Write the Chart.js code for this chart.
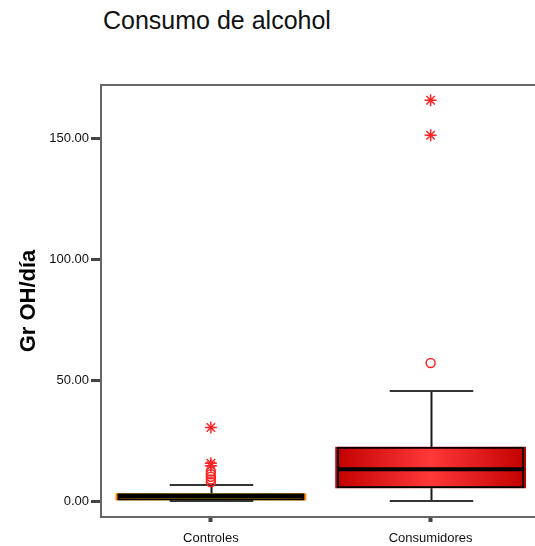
<!DOCTYPE html>
<html>
<head>
<meta charset="utf-8">
<script src="https://cdn.jsdelivr.net/npm/chart.js@4.4.1/dist/chart.umd.min.js"></script>
<style>
  html, body { margin: 0; padding: 0; background: #fff; overflow: hidden; width: 535px; height: 546px; }
  #wrap { position: relative; width: 548px; height: 546px; }
  #title { position: absolute; left: 103px; top: 8px; font: 25px "Liberation Sans", Arial, sans-serif;
           line-height: 25px; color: #111; white-space: nowrap; }
  canvas { position: absolute; left: 0; top: 0; }
</style>
</head>
<body>
<div id="wrap">
  <div id="title">Consumo de alcohol</div>
  <canvas id="c" width="548" height="546"></canvas>
</div>
<script>
// Box-plot summary per group (grams of alcohol per day)
const categories = ['Controles', 'Consumidores'];
const lowerWhisker = [0.0, 0.0];
const q1 = [0.0, 5.3];
const median = [2.0, 13.1];
const q3 = [3.2, 22.4];
const upperWhisker = [6.6, 45.5];
// Outliers: circles = mild, stars = extreme
const circleOutliers = [[7.8, 8.9, 10.0, 11.1, 12.2], [57.1]];
const starOutliers = [[14.6, 15.6, 30.4], [151.2, 165.7]];
const yTicks = [0, 50, 100, 150];

const FONT = '"Liberation Sans", Arial, sans-serif';
const BOX_PCT = 0.852;
const FILL_PCT = 0.868;
const CAP_PCT = 0.38;
const fillStops = [
  ['#ff8a00', '#ffe600', '#ff8a00'],
  ['#c20000', '#ff3838', '#c20000']
];

function boxFill(ctx) {
  const chart = ctx.chart;
  const xs = chart.scales.x;
  const i = ctx.dataIndex;
  if (ctx.type !== 'data' || !xs || !chart.chartArea || !xs.width) {
    return fillStops[i || 0][1];
  }
  const cx = xs.getPixelForValue(i);
  const half = xs.width / categories.length * FILL_PCT / 2;
  const g = chart.ctx.createLinearGradient(cx - half, 0, cx + half, 0);
  g.addColorStop(0, fillStops[i][0]);
  g.addColorStop(0.5, fillStops[i][1]);
  g.addColorStop(1, fillStops[i][2]);
  return g;
}

const pointsFrom = (groups) =>
  categories.flatMap((c, i) => groups[i].map(v => ({ x: c, y: v })));

// Whiskers, caps and median lines, placed with the chart's scales
const whiskerPlugin = {
  id: 'whiskers',
  afterDatasetDraw(chart, args) {
    if (args.index !== 1) return;
    const { ctx, scales: { x, y } } = chart;
    const band = x.width / categories.length;
    const seg = (x1, y1, x2, y2) => { ctx.beginPath(); ctx.moveTo(x1, y1); ctx.lineTo(x2, y2); ctx.stroke(); };
    ctx.save();
    categories.forEach((c, i) => {
      const cx = Math.round(x.getPixelForValue(i)) + 0.5;
      const capHalf = band * CAP_PCT / 2;
      const boxHalf = band * BOX_PCT / 2;
      const yHi = y.getPixelForValue(upperWhisker[i]);
      const yLo = y.getPixelForValue(lowerWhisker[i]);
      ctx.lineWidth = 2;
      ctx.strokeStyle = '#1a1a1a';
      seg(cx, y.getPixelForValue(q3[i]), cx, yHi);
      seg(cx, y.getPixelForValue(q1[i]), cx, yLo);
      ctx.strokeStyle = '#333';
      seg(cx - capHalf, yHi, cx + capHalf, yHi);
      seg(cx - capHalf, yLo, cx + capHalf, yLo);
      ctx.strokeStyle = '#000';
      ctx.lineWidth = 4;
      const ym = y.getPixelForValue(median[i]);
      seg(cx - boxHalf + 1, ym, cx + boxHalf - 1, ym);
    });
    ctx.restore();
  }
};

// Top edge of the plot frame
const framePlugin = {
  id: 'frame',
  afterDraw(chart) {
    const { ctx, chartArea: a } = chart;
    ctx.save();
    ctx.strokeStyle = '#666';
    ctx.lineWidth = 2;
    ctx.beginPath();
    ctx.moveTo(a.left - 1, a.top);
    ctx.lineTo(a.right + 1, a.top);
    ctx.stroke();
    ctx.restore();
  }
};

new Chart(document.getElementById('c'), {
  type: 'bar',
  data: {
    labels: categories,
    datasets: [
      {
        label: 'fill',
        data: categories.map((c, i) => [q1[i], q3[i]]),
        backgroundColor: boxFill,
        borderWidth: 0,
        grouped: false,
        barPercentage: FILL_PCT,
        categoryPercentage: 1,
        order: 3
      },
      {
        label: 'box',
        data: categories.map((c, i) => [q1[i], q3[i]]),
        backgroundColor: 'rgba(0,0,0,0)',
        borderColor: '#000',
        borderWidth: 2,
        borderSkipped: false,
        grouped: false,
        barPercentage: BOX_PCT,
        categoryPercentage: 1,
        order: 2
      },
      {
        type: 'line',
        label: 'outliers',
        data: pointsFrom(circleOutliers),
        showLine: false,
        pointStyle: 'circle',
        pointRadius: 4.5,
        pointBorderWidth: 1.5,
        pointBorderColor: '#ff2424',
        pointBackgroundColor: 'rgba(255,255,255,0)',
        order: 1
      },
      {
        type: 'line',
        label: 'extremes',
        data: pointsFrom(starOutliers),
        showLine: false,
        pointStyle: 'star',
        pointRadius: 6,
        pointBorderWidth: 1.5,
        pointBorderColor: '#ff2424',
        pointBackgroundColor: 'rgba(255,255,255,0)',
        order: 0
      }
    ]
  },
  options: {
    responsive: false,
    devicePixelRatio: 1,
    animation: false,
    layout: { padding: { top: 85, right: 1, left: 0, bottom: 0 } },
    plugins: { legend: { display: false }, tooltip: { enabled: false } },
    scales: {
      x: {
        type: 'category',
        offset: true,
        grid: { display: true, drawOnChartArea: false, drawTicks: true, tickLength: 5, tickWidth: 4, tickColor: '#444', offset: false },
        border: { display: true, color: '#666', width: 2 },
        ticks: { font: { family: FONT, size: 13 }, color: '#111', padding: 9, maxRotation: 0 },
        afterFit(s) { s.height = 29; }
      },
      y: {
        min: -6.6,
        max: 172,
        afterBuildTicks(s) { s.ticks = yTicks.map(v => ({ value: v })); },
        ticks: { callback: v => Number(v).toFixed(2), font: { family: FONT, size: 13 }, color: '#111', padding: 2 },
        grid: { display: true, drawOnChartArea: false, drawTicks: true, tickLength: 10, tickWidth: 3, tickColor: '#444' },
        border: { display: true, color: '#666', width: 2 },
        title: { display: true, text: 'Gr OH/día', font: { family: FONT, size: 22, weight: 'bold' }, color: '#000', padding: { top: 16, bottom: 0 } },
        afterFit(s) { s.width = 101; }
      }
    }
  },
  plugins: [whiskerPlugin, framePlugin]
});
</script>
</body>
</html>
